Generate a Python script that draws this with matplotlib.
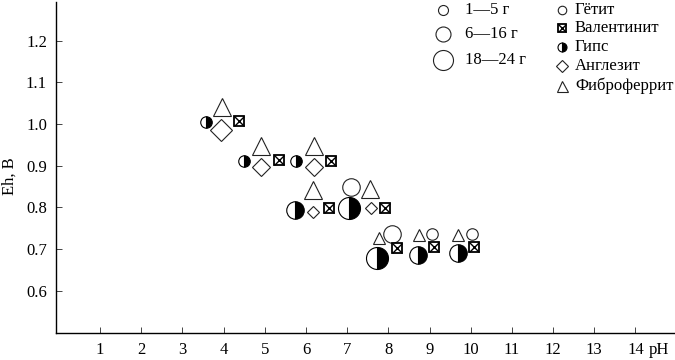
import matplotlib
matplotlib.use('Agg')
import matplotlib.pyplot as plt

plt.rcParams['font.family'] = ['Liberation Serif', 'DejaVu Serif']
FS = 12

# ---- data ----
ph_ticks = list(range(1, 15))
eh_ticks = [0.6, 0.7, 0.8, 0.9, 1.0, 1.1, 1.2]

goethite_ph = [7.09, 8.08, 9.05, 10.03]
goethite_eh = [0.850, 0.736, 0.736, 0.736]
goethite_cls = [2, 2, 1, 1]

valent_ph = [4.38, 5.34, 6.62, 6.56, 7.92, 8.20, 9.11, 10.08]
valent_eh = [1.008, 0.915, 0.912, 0.799, 0.799, 0.702, 0.706, 0.704]
valent_cls = [1, 1, 1, 1, 1, 1, 1, 1]

gypsum_ph = [3.57, 4.50, 5.77, 5.73, 7.04, 7.73, 8.73, 9.68]
gypsum_eh = [1.006, 0.911, 0.911, 0.795, 0.798, 0.678, 0.687, 0.690]
gypsum_cls = [1, 1, 1, 2, 3, 3, 2, 2]

angl_ph = [3.93, 4.90, 6.19, 6.18, 7.58]
angl_eh = [0.986, 0.896, 0.896, 0.790, 0.798]
angl_cls = [3, 2, 2, 1, 1]

fibro_ph = [3.96, 4.91, 6.19, 6.18, 7.55, 7.77, 8.74, 9.70]
fibro_eh = [1.042, 0.948, 0.948, 0.841, 0.844, 0.726, 0.734, 0.734]
fibro_cls = [2, 2, 2, 2, 2, 1, 1, 1]

size_labels = ['1—5 г', '6—16 г', '18—24 г']
mineral_labels = ['Гётит', 'Валентинит', 'Гипс', 'Англезит', 'Фиброферрит']

# ---- style ----
PX = 0.72  # points per pixel at dpi 100
cls_px = {1: 11.5, 2: 17.5, 3: 22.0}
EC = '#222222'
LW = 0.8

W, H = 675, 360
fig = plt.figure(figsize=(W / 100, H / 100), dpi=100)
ax = fig.add_axes([56 / W, 27.5 / H, (W - 56) / W, (332.5 - 2) / H])
ax.set_xlim(-0.068, 14.96)
ax.set_ylim(0.5, 1.293)

for s in ['top', 'right']:
    ax.spines[s].set_visible(False)
for s in ['left', 'bottom']:
    ax.spines[s].set_linewidth(1.0)

ax.set_xticks(ph_ticks)
ax.set_xticklabels([str(t) for t in ph_ticks])
ax.set_yticks(eh_ticks)
ax.set_yticklabels(['%.1f' % t for t in eh_ticks])
ax.tick_params(direction='in', length=4.5, width=0.7, color='#444444',
               labelsize=FS, pad=6.5)

ax.annotate('pH', xy=(14, 0), xycoords=('data', 'axes fraction'),
            xytext=(13 * PX, -6.5), textcoords='offset points',
            ha='left', va='top', fontsize=FS)
fig.text(10 / W, 1 - 176 / H, 'Eh, В', rotation=90, ha='center', va='center',
         fontsize=FS)


def draw_circle(a, x, y, d, trans=None):
    kw = dict(transform=trans, clip_on=False) if trans else {}
    a.plot([x], [y], marker='o', ms=d * PX, mfc='white', mec=EC, mew=LW,
           ls='none', **kw)


def draw_gyp(a, x, y, d, trans=None):
    kw = dict(transform=trans, clip_on=False) if trans else {}
    a.plot([x], [y], marker='o', ms=d * PX, fillstyle='right', mfc='black',
           mfcalt='white', mec='black', mew=LW, ls='none', **kw)


def draw_val(a, x, y, d, trans=None):
    kw = dict(transform=trans, clip_on=False) if trans else {}
    a.plot([x], [y], marker='s', ms=d * PX, mfc='white', mec='black',
           mew=1.3, ls='none', **kw)
    a.plot([x], [y], marker='x', ms=d * PX, mec='black', mew=1.0,
           ls='none', **kw)


def draw_dia(a, x, y, w, trans=None):
    kw = dict(transform=trans, clip_on=False) if trans else {}
    a.plot([x], [y], marker='D', ms=w / 1.414 * PX, mfc='white', mec=EC,
           mew=LW, ls='none', **kw)


def draw_tri(a, x, y, w, trans=None):
    kw = dict(transform=trans, clip_on=False) if trans else {}
    a.plot([x], [y], marker='^', ms=w * PX, mfc='white', mec=EC,
           mew=LW, ls='none', **kw)


for x, y, c in zip(fibro_ph, fibro_eh, fibro_cls):
    draw_tri(ax, x, y, cls_px[c] * 1.08)
for x, y, c in zip(goethite_ph, goethite_eh, goethite_cls):
    draw_circle(ax, x, y, cls_px[c])
for x, y, c in zip(angl_ph, angl_eh, angl_cls):
    draw_dia(ax, x, y, cls_px[c] * 0.98)
for x, y, c in zip(gypsum_ph, gypsum_eh, gypsum_cls):
    draw_gyp(ax, x, y, cls_px[c])
for x, y, c in zip(valent_ph, valent_eh, valent_cls):
    draw_val(ax, x, y, 10)

# ---- legend ----
ft = fig.transFigure


def fp(x, y):
    return x / W, 1 - y / H


leg_d = [10, 15, 20]
leg_y = [10, 34, 60]
for d, yy, lab in zip(leg_d, leg_y, size_labels):
    draw_circle(ax, *fp(443, yy), d, trans=ft)
    fig.text(*fp(465, yy), lab, ha='left', va='center', fontsize=FS)

ry = [10, 28, 47, 66, 86]
mx = 562
draw_circle(ax, *fp(mx, ry[0]), 8.5, trans=ft)
draw_val(ax, *fp(mx, ry[1]), 8, trans=ft)
draw_gyp(ax, *fp(mx, ry[2]), 9, trans=ft)
draw_dia(ax, *fp(mx, ry[3]), 11, trans=ft)
draw_tri(ax, *fp(mx, ry[4]), 11, trans=ft)
for yy, lab in zip(ry, mineral_labels):
    fig.text(*fp(575, yy), lab, ha='left', va='center', fontsize=FS)

fig.savefig('out.png', dpi=100)
